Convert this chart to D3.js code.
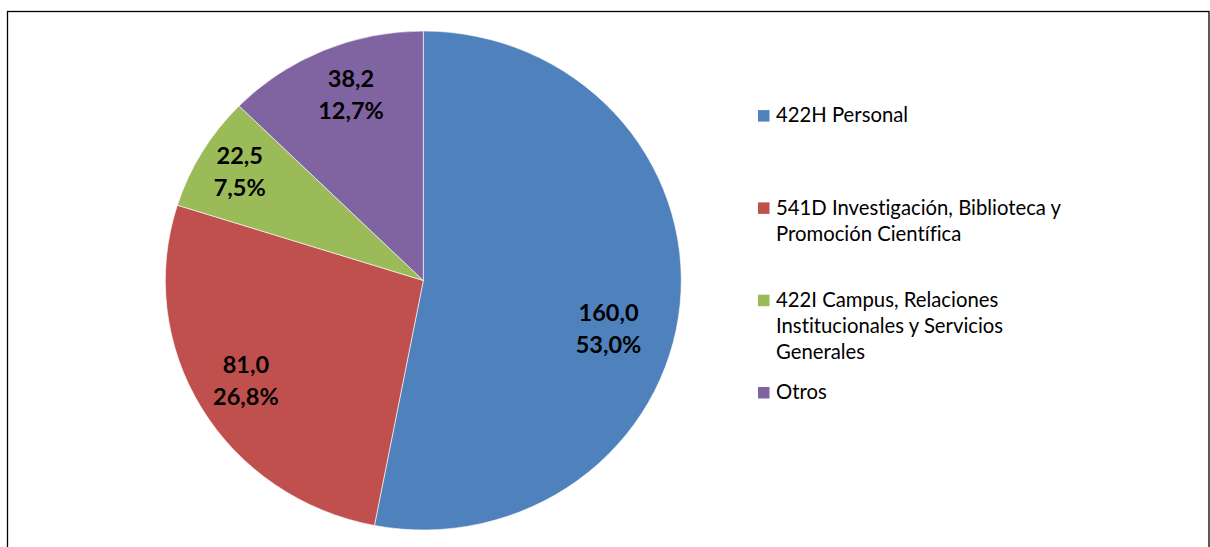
<!DOCTYPE html>
<html>
<head>
<meta charset="utf-8">
<script src="https://cdn.jsdelivr.net/npm/d3@7"></script>
<style>
  html, body { margin: 0; padding: 0; background: #fff; }
  svg { display: block; }
  text { font-variant-ligatures: none; font-feature-settings: "liga" 0, "clig" 0; }
</style>
</head>
<body>
<svg id="chart" width="1210" height="547"></svg>
<script>
// ---- data ----
const categories = [
  "422H Personal",
  "541D Investigación, Biblioteca y\nPromoción Científica",
  "422I Campus, Relaciones\nInstitucionales y Servicios\nGenerales",
  "Otros"
];
const values = [160.0, 81.0, 22.5, 38.2];
const colors = ["#4F81BD", "#C0504D", "#9BBB59", "#8064A2"];

// ---- layout ----
const W = 1210, H = 547;
const cx = 423.3, cy = 280.5, R = 249.5, sx = 1.034;
// label placement tweaks (angle shift in degrees, radius factor)
const labelAngleShift = [10, 0, 0, 2];
const labelRadius = [0.745, 0.80, 0.83, 0.79];

const fmt = v => v.toFixed(1).replace(".", ",");
const total = d3.sum(values);

const svg = d3.select("#chart");
svg.append("rect").attr("width", W).attr("height", H).attr("fill", "#fff");

// frame
svg.append("rect")
  .attr("x", 7.5).attr("y", 11.5)
  .attr("width", 1201.5).attr("height", 600)
  .attr("fill", "none").attr("stroke", "#000").attr("stroke-width", 1.3);

const pie = d3.pie().sort(null).value(d => d)(values);
const arc = d3.arc().innerRadius(0).outerRadius(R);

const g = svg.append("g").attr("transform", `translate(${cx},${cy}) scale(${sx},1)`);
g.selectAll("path").data(pie).join("path")
  .attr("d", arc)
  .attr("fill", (d, i) => colors[i])
  .attr("stroke", "#fff").attr("stroke-width", 0.6);

// data labels
const lg = svg.append("g");
pie.forEach((d, i) => {
  const a = (d.startAngle + d.endAngle) / 2 + labelAngleShift[i] * Math.PI / 180;
  const r = R * labelRadius[i];
  const x = cx + sx * r * Math.sin(a);
  const y = cy - r * Math.cos(a);
  const t = lg.append("text")
    .attr("x", x).attr("y", y)
    .attr("text-anchor", "middle")
    .attr("font-family", "Lato, 'Open Sans', sans-serif")
    .attr("font-weight", "bold")
    .attr("font-size", 23.5)
    .attr("fill", "#000");
  t.append("tspan").attr("x", x).attr("dy", "-0.4em").text(fmt(d.data));
  t.append("tspan").attr("x", x).attr("dy", "1.36em").text(fmt(d.data / total * 100) + "%");
});

// legend
const legX = 758, legBase0 = 122.3, legStep = 92.3, lineH = 26.2;
const leg = svg.append("g");
categories.forEach((c, i) => {
  const base = legBase0 + i * legStep;
  leg.append("rect")
    .attr("x", legX).attr("y", base - 12.2)
    .attr("width", 11.5).attr("height", 11.5)
    .attr("fill", colors[i]);
  const lines = c.split("\n");
  const t = leg.append("text")
    .attr("font-family", "Lato, 'Open Sans', sans-serif")
    .attr("font-size", 20.3)
    .attr("fill", "#000");
  lines.forEach((ln, j) => {
    t.append("tspan").attr("x", legX + 18).attr("y", base + j * lineH).text(ln);
  });
});
</script>
</body>
</html>
